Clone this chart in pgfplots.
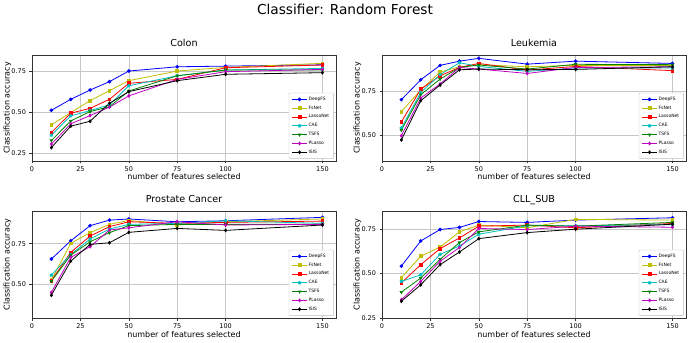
\documentclass[border=0pt]{standalone}
\usepackage{fontspec}
\setmainfont{DejaVu Sans}
\usepackage{pgfplots}
\usepackage{pgfplotstable}
\pgfplotsset{compat=1.18}

\definecolor{mply}{rgb}{0.75,0.75,0}
\definecolor{mplc}{rgb}{0,0.75,0.75}
\definecolor{mplg}{rgb}{0,0.5,0}
\definecolor{mplm}{rgb}{0.75,0,0.75}

% accuracy per number of selected features
\pgfplotstableread{
x   deepfs fsnet lassonet cae   tsfs  plasso isis
10  0.510  0.421 0.374    0.358 0.325 0.303  0.282
20  0.577  0.496 0.492    0.476 0.445 0.427  0.413
30  0.634  0.569 0.522    0.508 0.502 0.478  0.443
40  0.685  0.630 0.577    0.543 0.532 0.529  0.553
50  0.750  0.691 0.675    0.660 0.628 0.598  0.624
75  0.776  0.750 0.699    0.721 0.721 0.699  0.691
100 0.780  0.772 0.770    0.756 0.756 0.746  0.730
150 0.788  0.797 0.787    0.766 0.756 0.760  0.740
}\colondata

\pgfplotstableread{
x   deepfs fsnet lassonet cae   tsfs  plasso isis
10  0.701  0.633 0.574    0.540 0.528 0.496  0.472
20  0.814  0.756 0.761    0.742 0.729 0.710  0.695
30  0.896  0.858 0.837    0.843 0.818 0.790  0.784
40  0.920  0.888 0.884    0.911 0.884 0.884  0.871
50  0.936  0.900 0.907    0.890 0.898 0.875  0.875
75  0.903  0.888 0.869    0.862 0.875 0.850  0.871
100 0.920  0.896 0.890    0.881 0.902 0.884  0.873
150 0.907  0.896 0.866    0.881 0.900 0.888  0.888
}\leukdata

\pgfplotstableread{
x   deepfs fsnet lassonet cae   tsfs  plasso isis
10  0.656  0.527 0.523    0.557 0.520 0.451  0.434
20  0.768  0.752 0.697    0.684 0.680 0.666  0.643
30  0.861  0.818 0.797    0.779 0.762 0.732  0.746
40  0.895  0.869 0.855    0.840 0.818 0.834  0.756
50  0.902  0.893 0.885    0.869 0.861 0.848  0.820
75  0.885  0.865 0.875    0.875 0.869 0.885  0.844
100 0.891  0.885 0.881    0.891 0.869 0.865  0.832
150 0.912  0.902 0.889    0.875 0.869 0.869  0.865
}\prosdata

\pgfplotstableread{
x   deepfs fsnet lassonet cae   tsfs  plasso isis
10  0.541  0.476 0.447    0.455 0.395 0.352  0.344
20  0.682  0.596 0.549    0.492 0.474 0.455  0.436
30  0.746  0.648 0.639    0.607 0.579 0.568  0.549
40  0.758  0.733 0.699    0.654 0.673 0.645  0.620
50  0.791  0.771 0.765    0.720 0.733 0.752  0.695
75  0.786  0.756 0.771    0.767 0.771 0.746  0.729
100 0.799  0.803 0.756    0.767 0.765 0.765  0.748
150 0.812  0.799 0.780    0.774 0.786 0.759  0.776
}\clldata

\pgfplotsset{
  /pgf/number format/assume math mode=true,
  panel/.style={
    scale only axis, width=304pt,
    xmin=0, xmax=157,
    xtick={0,25,50,75,100,150},
    ytick={0.25,0.5,0.75},
    y tick label style={/pgf/number format/.cd,fixed,fixed zerofill,precision=2,/tikz/.cd},
    grid=major, major grid style={black!22, line width=0.5pt},
    axis line style={black!80, line width=0.6pt},
    tick align=outside, major tick length=2.5pt, tick pos=left,
    tick style={black!80, line width=0.5pt},
    ticklabel style={font=\fontsize{6.5}{7}\selectfont},
    label style={font=\fontsize{8}{9}\selectfont},
    xlabel={number of features selected},
    ylabel={Classification accuracy},
    xlabel style={at={(axis description cs:0.5,-0.151)}, anchor=center},
    ylabel style={at={(axis description cs:-0.081,0.5)}, anchor=center},
    title style={at={(axis description cs:0.5,1.024)}, anchor=base,
      font=\fontsize{9.6}{11}\selectfont},
    legend style={at={(axis description cs:0.993,0.02)}, anchor=south east,
      font=\fontsize{4.5}{5}\selectfont, draw=black!25, rounded corners=1pt,
      nodes={inner ysep=2pt, inner xsep=1.5pt}},
    legend cell align=left,
    legend image code/.code={%
      \draw[mark repeat=2,mark phase=2] plot coordinates {(0cm,0cm)(0.25cm,0cm)(0.5cm,0cm)};},
    every axis plot/.append style={line width=0.8pt, mark size=1.4pt},
  },
}

\newcommand\allseries[1]{%
  \addplot[blue, mark=*] table[x=x,y=deepfs]{#1};
  \addplot[mply, mark=square*] table[x=x,y=fsnet]{#1};
  \addplot[red, mark=square*] table[x=x,y=lassonet]{#1};
  \addplot[mplc, mark=pentagon*] table[x=x,y=cae]{#1};
  \addplot[mplg, mark=triangle*, mark options={rotate=180}] table[x=x,y=tsfs]{#1};
  \addplot[mplm, mark=diamond*] table[x=x,y=plasso]{#1};
  \addplot[black, mark=diamond*] table[x=x,y=isis]{#1};
  \legend{DeepFS,FsNet,LassoNet,CAE,TSFS,PLasso,ISIS}
}

\begin{document}
\begin{tikzpicture}
\useasboundingbox (0,0) rectangle (692pt,342pt);

\node[anchor=base, font=\fontsize{13.7}{16}\selectfont] at (345pt,327pt) {Classifier: Random Forest};

\begin{axis}[panel, at={(32pt,181pt)}, anchor=south west, height=106pt,
  ymin=0.20, ymax=0.848, title={Colon}]
\allseries{\colondata}
\end{axis}

\begin{axis}[panel, at={(382pt,181pt)}, anchor=south west, height=106pt,
  ymin=0.352, ymax=0.955, title={Leukemia}]
\allseries{\leukdata}
\end{axis}

\begin{axis}[panel, at={(32pt,24pt)}, anchor=south west, height=107pt,
  ymin=0.294, ymax=0.951, title={Prostate Cancer}]
\allseries{\prosdata}
\end{axis}

\begin{axis}[panel, at={(382pt,24pt)}, anchor=south west, height=107pt,
  ymin=0.25, ymax=0.85, title={CLL\_SUB}]
\allseries{\clldata}
\end{axis}
\end{tikzpicture}
\end{document}
